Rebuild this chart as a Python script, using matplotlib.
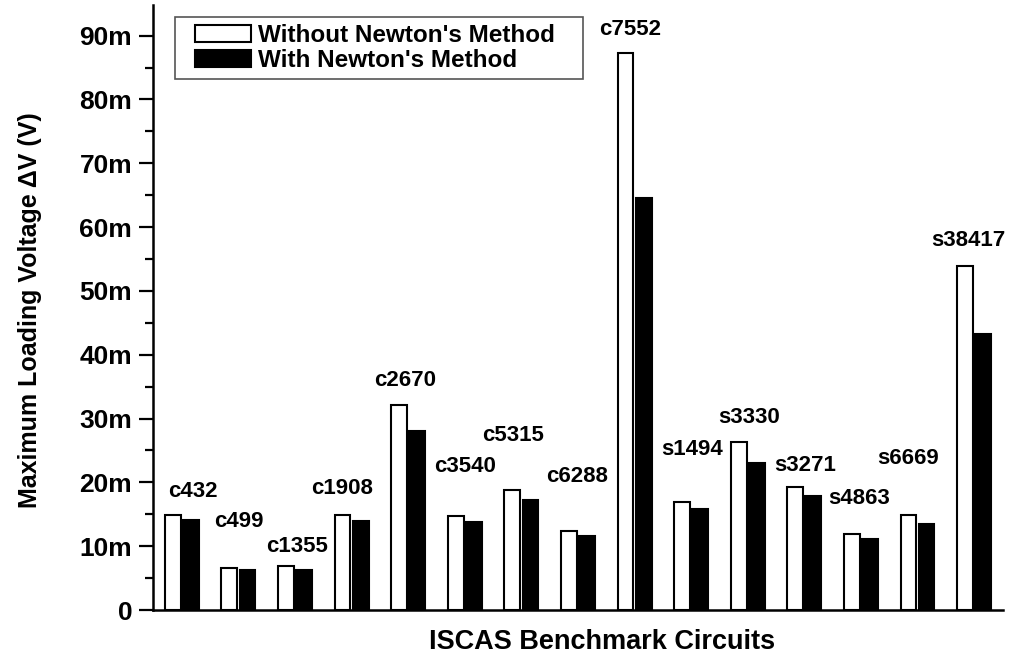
import numpy as np
import matplotlib.pyplot as plt
from matplotlib.patches import Rectangle
from matplotlib.ticker import MultipleLocator, FuncFormatter

circuits = ['c432', 'c499', 'c1355', 'c1908', 'c2670', 'c3540', 'c5315', 'c6288',
            'c7552', 's1494', 's3330', 's3271', 's4863', 's6669', 's38417']
# values in volts
without_newton = [14.9, 6.6, 6.9, 14.9, 32.1, 14.7, 18.8, 12.4,
                  87.3, 16.9, 26.3, 19.3, 11.9, 14.9, 53.9]
with_newton = [14.1, 6.3, 6.3, 14.0, 28.1, 13.8, 17.2, 11.6,
               64.5, 15.8, 23.1, 17.8, 11.2, 13.5, 43.3]
without_newton = np.array(without_newton) * 1e-3
with_newton = np.array(with_newton) * 1e-3

# where the circuit names sit (x offset from group centre, height in V)
label_dx = [0.19, 0.0, 0.03, -0.17, -0.06, 0.0, -0.15, -0.02,
            -0.08, 0.01, 0.02, 0.02, -0.04, -0.17, -0.11]
label_y = [18.5, 13.8, 10.0, 19.1, 35.9, 22.5, 27.3, 20.9,
           91.0, 25.2, 30.1, 22.6, 17.4, 23.8, 57.9]

plt.rcParams['font.family'] = ['Liberation Sans', 'DejaVu Sans']
plt.rcParams['font.weight'] = 'bold'

fig = plt.figure(figsize=(10.1, 6.55), dpi=100)
ax = fig.add_axes([0.1515, 0.0687, 0.8415, 0.9237])

x = np.arange(len(circuits))
w = 0.28
ax.bar(x - 0.16, without_newton, w, color='white', edgecolor='black', linewidth=1.5,
       label="Without Newton's Method")
ax.bar(x + 0.16, with_newton, w, color='black', edgecolor='black', linewidth=1.5,
       label="With Newton's Method")

for i, name in enumerate(circuits):
    ax.text(x[i] + label_dx[i], label_y[i] * 1e-3, name, ha='center', va='center',
            fontsize=16, fontweight='bold')

ax.set_xlim(-0.51, 14.51)
ax.set_ylim(0, 0.0948)
ax.yaxis.set_major_locator(MultipleLocator(0.01))
ax.yaxis.set_minor_locator(MultipleLocator(0.005))
ax.yaxis.set_major_formatter(FuncFormatter(lambda v, p: '0' if abs(v) < 1e-9 else '%dm' % round(v * 1000)))
ax.set_xticks([])
for s in ['top', 'right']:
    ax.spines[s].set_visible(False)
ax.spines['left'].set_linewidth(1.8)
ax.spines['bottom'].set_linewidth(1.8)
ax.tick_params(axis='y', which='major', length=10, width=1.6, labelsize=19, pad=5)
ax.tick_params(axis='y', which='minor', length=6, width=1.6)

ax.set_ylabel('Maximum Loading Voltage \u0394V (V)', fontsize=18, fontweight='bold')
ax.yaxis.set_label_coords(-0.131, 0.496)
ax.set_xlabel('ISCAS Benchmark Circuits', fontsize=19.5, fontweight='bold')
ax.xaxis.set_label_coords(0.528, -0.031)

# legend box drawn by hand, wider than the legend itself
ax.add_patch(Rectangle((0.026, 0.878), 0.48, 0.102, transform=ax.transAxes,
                       fill=False, edgecolor='#555555', linewidth=1.2, zorder=5))
leg = ax.legend(loc='upper left', bbox_to_anchor=(0.049, 0.969), fontsize=17.5,
                frameon=False, handlelength=2.3, handleheight=0.7, handletextpad=0.3,
                borderpad=0, labelspacing=0.1, borderaxespad=0)

plt.savefig('out.png', dpi=100)
